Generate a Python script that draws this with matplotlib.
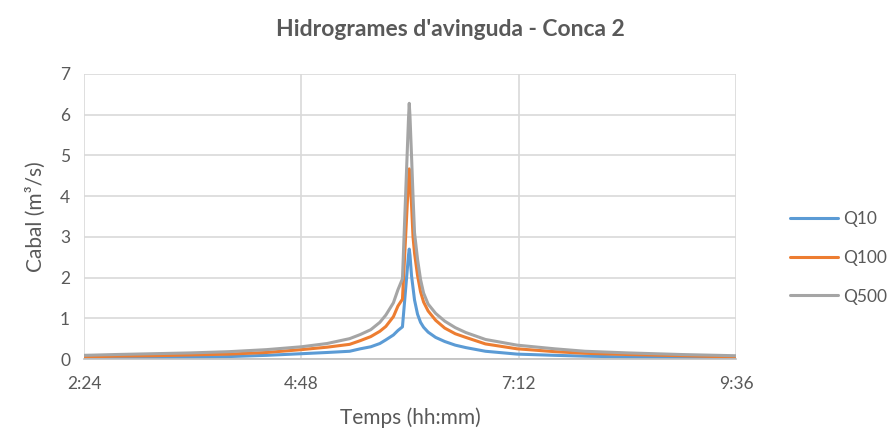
import matplotlib
matplotlib.use("Agg")
import matplotlib.pyplot as plt
from matplotlib.ticker import FixedLocator, FuncFormatter

# Time axis in minutes from midnight
minutes = [144, 165, 190, 215, 240, 265, 288, 305, 320, 327, 334, 340, 344, 349,
           352, 355, 359, 359.5, 360, 361, 362, 363, 365, 367, 369, 372, 377, 383, 390,
           397, 410, 431, 456, 476, 504, 540, 576]

# Discharge (m3/s) for each return period
q10 = [0.02, 0.03, 0.035, 0.045, 0.06, 0.09, 0.13, 0.16, 0.19, 0.25, 0.30, 0.38,
       0.47, 0.59, 0.70, 0.79, 2.55, 2.70, 2.55, 2.05, 1.75, 1.45, 1.10, 0.90, 0.78,
       0.66, 0.53, 0.43, 0.34, 0.28, 0.19, 0.12, 0.09, 0.07, 0.05, 0.04, 0.02]
q100 = [0.05, 0.07, 0.08, 0.10, 0.12, 0.16, 0.23, 0.29, 0.36, 0.45, 0.55, 0.68,
        0.80, 1.04, 1.30, 1.47, 4.40, 4.67, 4.40, 3.80, 3.00, 2.60, 2.05, 1.65, 1.40,
        1.18, 0.95, 0.76, 0.62, 0.53, 0.37, 0.25, 0.18, 0.14, 0.11, 0.08, 0.05]
q500 = [0.09, 0.11, 0.13, 0.15, 0.18, 0.23, 0.30, 0.38, 0.50, 0.60, 0.72, 0.90,
        1.08, 1.38, 1.70, 1.97, 5.90, 6.28, 5.95, 5.00, 4.00, 3.10, 2.45, 1.95, 1.62,
        1.35, 1.12, 0.93, 0.77, 0.65, 0.48, 0.34, 0.25, 0.19, 0.15, 0.11, 0.08]

series_names = ["Q10", "Q100", "Q500"]
x_ticks = [144, 288, 432, 576]
y_ticks = [0, 1, 2, 3, 4, 5, 6, 7]

colors = ["#5B9BD5", "#ED7D31", "#A5A5A5"]
text_color = "#595959"
grid_color = "#D9D9D9"

plt.rcParams["font.family"] = ["Lato", "DejaVu Sans"]

fig = plt.figure(figsize=(8.9, 4.3), dpi=100)
ax = fig.add_axes([84 / 890, 1 - 359 / 430, (736 - 84) / 890, (359 - 74) / 430])

for vals, name, c in zip([q10, q100, q500], series_names, colors):
    ax.plot(minutes, vals, color=c, lw=2.2, label=name, solid_joinstyle="round",
            solid_capstyle="round")

ax.set_xlim(x_ticks[0], x_ticks[-1])
ax.set_ylim(y_ticks[0], y_ticks[-1])
ax.xaxis.set_major_locator(FixedLocator(x_ticks))
ax.yaxis.set_major_locator(FixedLocator(y_ticks))
ax.xaxis.set_major_formatter(FuncFormatter(lambda v, p: f"{int(v) // 60}:{int(v) % 60:02d}"))

ax.grid(True, color=grid_color, lw=1.2)
ax.set_axisbelow(True)
for side in ["top", "right", "left"]:
    ax.spines[side].set_visible(False)
ax.spines["bottom"].set_color("#BFBFBF")
ax.spines["bottom"].set_linewidth(1.2)
ax.tick_params(axis="x", length=0, labelsize=12.5, colors=text_color, pad=12)
ax.tick_params(axis="y", length=0, labelsize=12.5, colors=text_color, pad=10)

ax.set_xlabel("Temps (hh:mm)", fontsize=15, color=text_color, labelpad=11)
ax.set_ylabel("Cabal (m³/s)", fontsize=15, color=text_color, labelpad=10)

fig.text(450 / 890, 1 - 30 / 430, "Hidrogrames d'avinguda - Conca 2",
         ha="center", va="center", fontsize=16.5, fontweight="bold", color=text_color)

leg = ax.legend(loc="center left", bbox_to_anchor=(783 / 890, 1 - 258 / 430),
                bbox_transform=fig.transFigure, frameon=False, fontsize=12.5,
                handlelength=2.75, handletextpad=0.3, labelspacing=1.3,
                borderpad=0.4, borderaxespad=0)
for t in leg.get_texts():
    t.set_color(text_color)

fig.savefig("out.png", dpi=100)
